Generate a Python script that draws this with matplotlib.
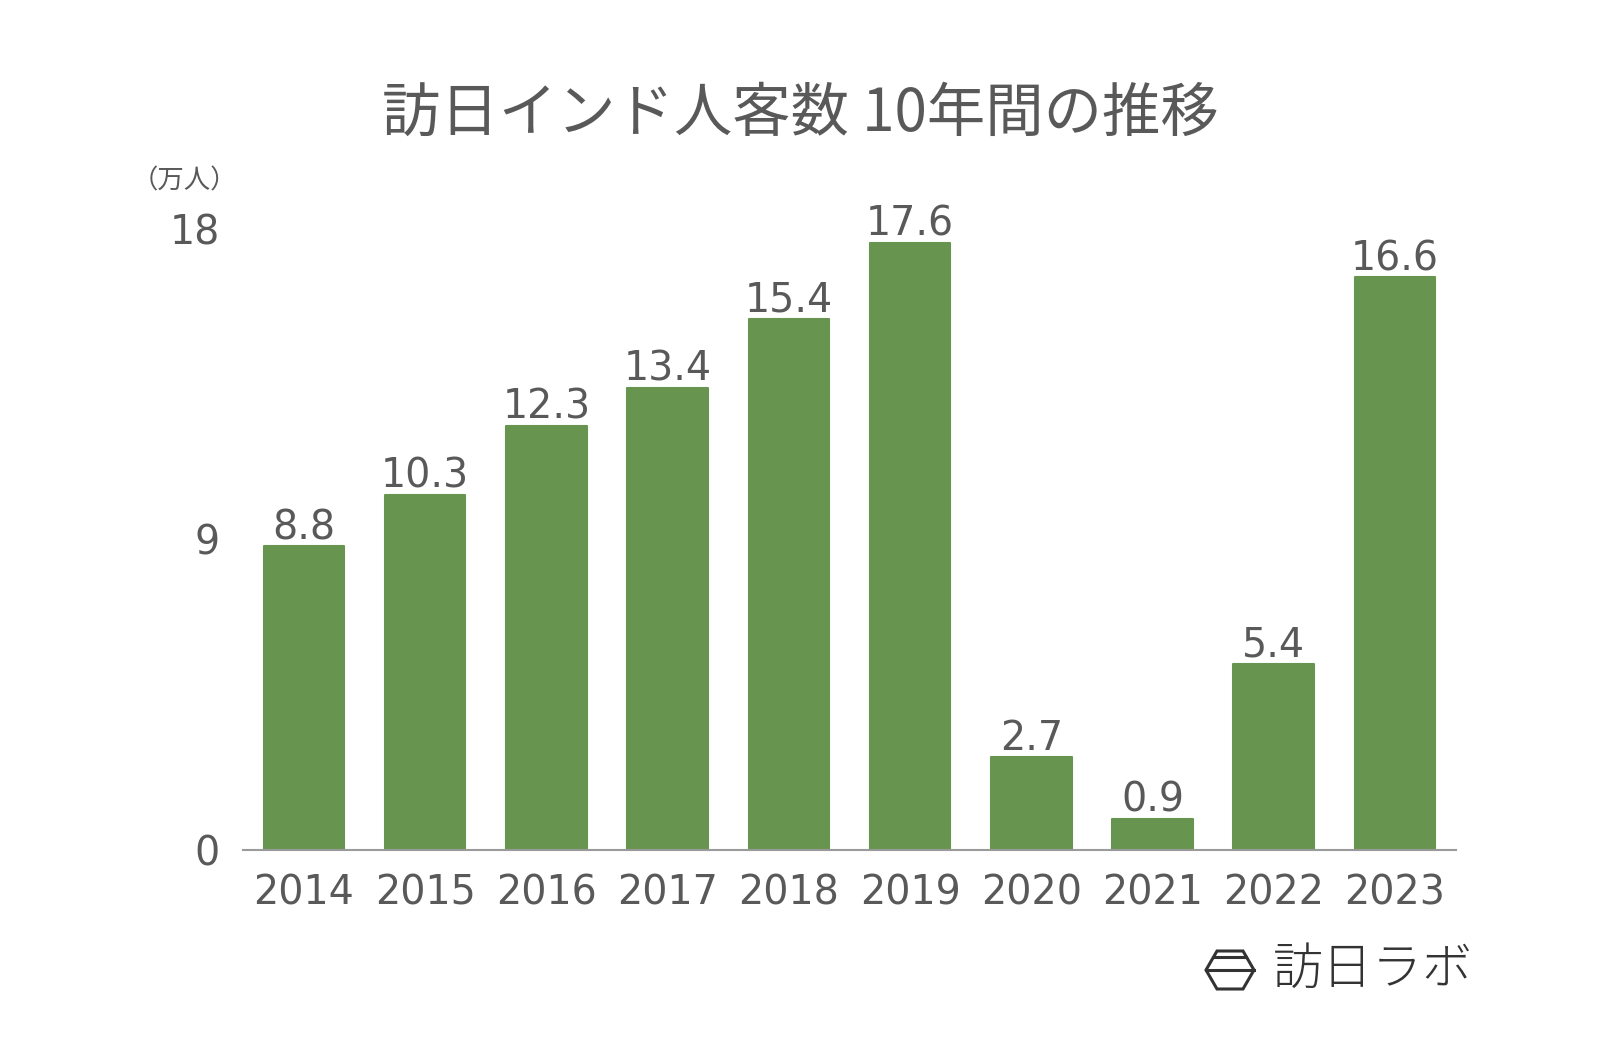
import matplotlib
matplotlib.use('Agg')
import matplotlib.pyplot as plt
from matplotlib.patches import Polygon

plt.rcParams['font.family'] = ['Noto Sans CJK JP', 'DejaVu Sans']

# データ（万人）
years = ['2014', '2015', '2016', '2017', '2018', '2019', '2020', '2021', '2022', '2023']
visitors = [8.8, 10.3, 12.3, 13.4, 15.4, 17.6, 2.7, 0.9, 5.4, 16.6]
y_ticks = [0, 9, 18]

bar_color = '#67944e'
text_color = '#595959'
num_font = 'DejaVu Sans'
num_size = 28.5

fig = plt.figure(figsize=(16, 10.48), dpi=100)
ax = fig.add_axes([0.152, 0.189, 0.7578, 0.5925])

x = range(len(years))
ax.bar(x, visitors, width=0.665, color=bar_color, edgecolor=bar_color,
       linewidth=1.5, joinstyle='round')

for i, v in zip(x, visitors):
    ax.annotate(f'{v:.1f}', (i, v), xytext=(0, 5), textcoords='offset points',
                ha='center', va='baseline', fontsize=num_size, color=text_color,
                family=num_font)

ax.set_xlim(-0.5, len(years) - 0.5)
ax.set_ylim(0, 18)
ax.set_xticks(list(x))
ax.set_xticklabels(years, family=num_font)
ax.set_yticks(y_ticks)
ax.set_yticklabels([str(t) for t in y_ticks], family=num_font)
ax.tick_params(axis='both', length=0, labelsize=num_size, colors=text_color)
ax.tick_params(axis='x', pad=17)
ax.tick_params(axis='y', pad=17)

for s in ['top', 'right', 'left']:
    ax.spines[s].set_visible(False)
ax.spines['bottom'].set_color('#9a9a9a')
ax.spines['bottom'].set_linewidth(1.5)

# タイトル・単位
fig.text(0.5, 0.891, '訪日インド人客数 10年間の推移', ha='center', va='center',
         fontsize=42, color=text_color)
fig.text(0.082, 0.827, '（万人）', ha='left', va='center', fontsize=19,
         color=text_color)

# ロゴ
W, H = 1600, 1048
def fx(px):
    return px / W
def fy(py):
    return 1 - py / H
hexagon = [(1206, 970), (1217, 951), (1243, 951), (1254, 970), (1243, 989), (1217, 989)]
fig.patches.append(Polygon([(fx(a), fy(b)) for a, b in hexagon], closed=True,
                           fill=False, edgecolor='#333333', linewidth=2.2,
                           transform=fig.transFigure, figure=fig))
fig.lines.append(plt.Line2D([fx(1206), fx(1254)], [fy(970), fy(970)],
                            color='#333333', linewidth=2.2, transform=fig.transFigure))
fig.lines.append(plt.Line2D([fx(1214), fx(1246)], [fy(957), fy(957)],
                            color='#333333', linewidth=2.2, transform=fig.transFigure))
fig.text(fx(1273), fy(970), '訪日ラボ', ha='left', va='center', fontsize=36,
         color='#333333', fontweight='light')

fig.savefig('out.png', dpi=100, facecolor='white')
